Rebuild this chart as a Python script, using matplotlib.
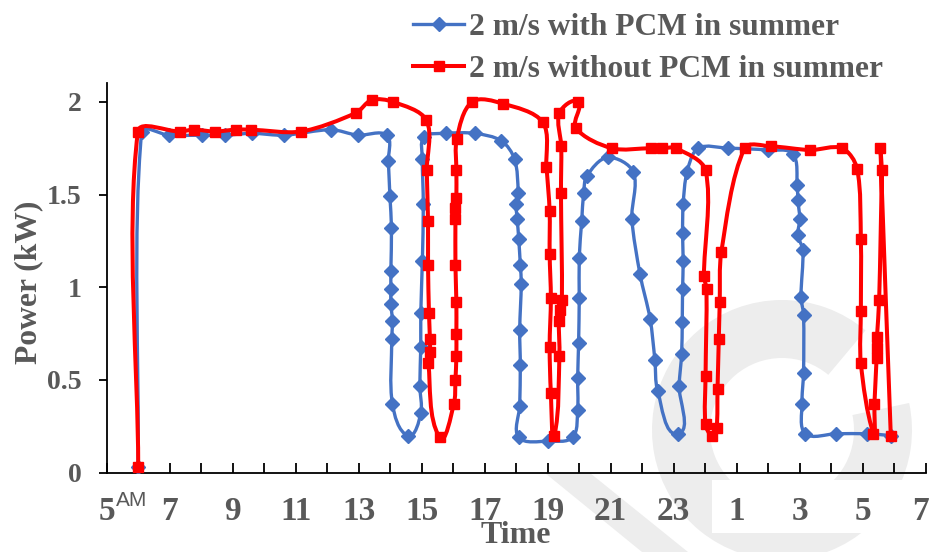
import numpy as np
import matplotlib
matplotlib.use("Agg")
import matplotlib.pyplot as plt
import matplotlib.transforms as mtransforms
from matplotlib.path import Path
from matplotlib.patches import PathPatch, Wedge, Polygon, Rectangle
from matplotlib.lines import Line2D

# data (hour of day, 5 = 5 AM, 29 = 5 AM next day)
with_x = [6.0, 6.11, 6.97, 8.04, 8.74, 9.61, 10.64, 12.12, 12.97, 13.89, 13.94, 13.99,
          14.04, 14.02, 14.02, 14.02, 14.07, 14.05, 14.07, 14.57, 14.97, 14.94, 14.97,
          14.97, 15.02, 15.05, 15.02, 15.07, 15.78, 16.69, 17.53, 17.95, 18.06, 17.99,
          18.03, 18.08, 18.13, 18.16, 18.11, 18.13, 18.11, 18.08, 19.01, 19.79, 19.95,
          19.95, 19.98, 20.0, 20.0, 20.08, 20.14, 20.24, 20.9, 21.72, 21.67, 21.93,
          22.25, 22.4, 22.49, 23.14, 23.17, 23.25, 23.27, 23.28, 23.3, 23.28, 23.3,
          23.42, 23.78, 24.73, 25.99, 26.78, 26.92, 26.94, 27.0, 26.94, 27.1, 27.04,
          27.12, 27.12, 27.07, 27.18, 28.15, 29.15, 29.89]
with_y = [0.03, 1.84, 1.82, 1.82, 1.82, 1.83, 1.82, 1.85, 1.82, 1.82, 1.68, 1.49,
          1.32, 1.09, 0.99, 0.91, 0.82, 0.72, 0.37, 0.20, 0.32, 0.47, 0.68,
          0.86, 1.14, 1.45, 1.69, 1.81, 1.83, 1.83, 1.79, 1.69, 1.51, 1.45,
          1.37, 1.26, 1.12, 1.02, 0.77, 0.58, 0.36, 0.19, 0.17, 0.19, 0.34,
          0.51, 0.70, 0.94, 1.16, 1.36, 1.51, 1.60, 1.70, 1.62, 1.37, 1.07,
          0.83, 0.61, 0.44, 0.21, 0.47, 0.64, 0.81, 0.99, 1.14, 1.29, 1.45,
          1.62, 1.75, 1.75, 1.74, 1.72, 1.55, 1.47, 1.37, 1.28, 1.20, 0.95,
          0.85, 0.54, 0.37, 0.21, 0.21, 0.21, 0.20]

without_x = [6.0, 5.99, 7.32, 7.77, 8.43, 9.09, 9.57, 11.17, 12.91, 13.41, 14.09, 15.15,
             15.16, 15.2, 15.2, 15.23, 15.26, 15.26, 15.21, 15.57, 16.02, 16.07, 16.1,
             16.1, 16.1, 16.07, 16.07, 16.07, 16.1, 16.1, 16.11, 16.6, 17.58, 18.84,
             18.96, 19.06, 19.06, 19.1, 19.06, 19.1, 19.21, 19.37, 19.35, 19.38, 19.45,
             19.42, 19.43, 19.37, 19.96, 19.89, 21.03, 22.28, 22.64, 23.07, 24.01,
             23.96, 24.04, 24.01, 24.01, 24.23, 24.36, 24.39, 24.43, 24.46, 24.51,
             25.25, 26.08, 27.34, 28.34, 28.82, 28.94, 28.94, 28.94, 29.34, 29.37,
             29.44, 29.44, 29.45, 29.52, 29.6, 29.56, 29.89]
without_y = [0.03, 1.84, 1.84, 1.85, 1.84, 1.85, 1.85, 1.84, 1.94, 2.01, 2.00, 1.90,
             1.63, 1.36, 1.12, 0.86, 0.72, 0.65, 0.59, 0.19, 0.37, 0.50, 0.63,
             0.75, 0.92, 1.12, 1.37, 1.43, 1.48, 1.63, 1.80, 2.00, 1.99, 1.89,
             1.65, 1.41, 1.18, 0.94, 0.68, 0.43, 0.20, 0.63, 0.82, 0.88, 0.93,
             1.51, 1.76, 1.94, 2.00, 1.86, 1.75, 1.75, 1.75, 1.75, 1.63,
             1.06, 0.99, 0.52, 0.26, 0.20, 0.24, 0.45, 0.72, 0.92, 1.19,
             1.75, 1.76, 1.74, 1.75, 1.64, 1.26, 0.87, 0.59, 0.21, 0.37,
             0.62, 0.67, 0.73, 0.93, 1.63, 1.75, 0.20]

tick_pos = list(range(5, 32, 2))
tick_labels = ['5', '7', '9', '11', '13', '15', '17', '19', '21', '23', '1', '3', '5', '7']
legend_labels = ['2 m/s with PCM in summer', '2 m/s without PCM in summer']

blue = '#4472C4'
red = '#FF0000'
gray = '#595959'
serif = 'Liberation Serif'


def smooth_path(ax, xs, ys, f=0.3):
    # excel-like smoothed line, control points worked out in screen space
    p = ax.transData.transform(np.column_stack([xs, ys]))
    n = len(p)
    verts = [p[0]]
    codes = [Path.MOVETO]

    def unit(v):
        d = np.hypot(*v)
        return v / d if d > 0 else v * 0

    for i in range(n - 1):
        p0 = p[i - 1] if i > 0 else p[i]
        p3 = p[i + 2] if i + 2 < n else p[i + 1]
        d = np.hypot(*(p[i + 1] - p[i]))
        c1 = p[i] + unit(p[i + 1] - p0) * d * f
        c2 = p[i + 1] - unit(p3 - p[i]) * d * f
        verts += [c1, c2, p[i + 1]]
        codes += [Path.CURVE4] * 3
    verts = ax.transData.inverted().transform(np.array(verts))
    return Path(verts, codes)


fig = plt.figure(figsize=(9.32, 5.52), dpi=100)

# faint watermark behind the chart (pixel coords, y up)
bg = fig.add_axes([0, 0, 1, 1], zorder=0)
bg.set_xlim(0, 932)
bg.set_ylim(0, 552)
bg.axis('off')
wm = '#ededed'
bg.add_patch(Wedge((782, 122), 130, 50, 372, width=58, color=wm, lw=0))
bg.add_patch(Polygon([(545, 79), (590, 79), (688, 0), (642, 0)], color=wm, lw=0))
bg.add_patch(Rectangle((712, 19), 220, 53, color='white', lw=0))

ax = fig.add_axes([0.1145, 0.1437, 0.8788, 0.7054], zorder=1)
ax.patch.set_alpha(0)
ax.set_xlim(5, 31)
ax.set_ylim(0, 2.1)

ax.add_patch(PathPatch(smooth_path(ax, with_x, with_y), fill=False, edgecolor=blue,
                       lw=2.4, capstyle='round', joinstyle='round', zorder=2))
ax.plot(with_x, with_y, ls='none', marker='D', ms=7.6, color=blue, zorder=3)
ax.add_patch(PathPatch(smooth_path(ax, without_x, without_y), fill=False, edgecolor=red,
                       lw=2.9, capstyle='round', joinstyle='round', zorder=4))
ax.plot(without_x, without_y, ls='none', marker='s', ms=7.4, color=red, zorder=5)

ax.set_xticks(tick_pos)
ax.set_xticklabels(tick_labels)
ax.set_xticks(range(5, 32), minor=True)
ax.set_yticks([0, 0.5, 1, 1.5, 2])
ax.set_yticklabels(['0', '0.5', '1', '1.5', '2'])

for s in ['top', 'right']:
    ax.spines[s].set_visible(False)
for s in ['left', 'bottom']:
    ax.spines[s].set_linewidth(1.3)

ax.tick_params(axis='x', which='both', direction='in', length=7, width=1.3, pad=17)
ax.tick_params(axis='y', direction='out', length=6, width=1.3, pad=12)
for lab in ax.get_xticklabels():
    lab.set_fontfamily(serif)
    lab.set_fontweight('bold')
    lab.set_fontsize(24)
    lab.set_color(gray)
for lab in ax.get_yticklabels():
    lab.set_fontfamily(serif)
    lab.set_fontweight('bold')
    lab.set_fontsize(20)
    lab.set_color(gray)
# last label sits a little inside the edge
last = ax.get_xticklabels()[-1]
last.set_transform(last.get_transform() +
                   mtransforms.ScaledTranslation(-5 / 100, 0, fig.dpi_scale_trans))

ax.text(5.28, -0.1, 'AM', transform=ax.transData, fontsize=15, color=gray,
        family='Liberation Sans', ha='left', va='top')

ax.set_xlabel('Time', fontsize=23, fontweight='bold', family=serif, color=gray)
ax.xaxis.set_label_coords(0.5, -0.125)
ax.set_ylabel('Power (kW)', fontsize=22.7, fontweight='bold', family=serif, color=gray)
ax.yaxis.set_label_coords(-0.078, 0.49)

handles = [Line2D([], [], color=blue, lw=2.4, marker='D', ms=7.6),
           Line2D([], [], color=red, lw=2.9, marker='s', ms=7.4)]
leg = fig.legend(handles, legend_labels,
                 loc='upper left', bbox_to_anchor=(0.413, 1.028), frameon=False,
                 prop={'family': serif, 'weight': 'bold', 'size': 22.7},
                 handlelength=1.62, handletextpad=0.16, labelspacing=0.41)
for t in leg.get_texts():
    t.set_color(gray)

fig.savefig('out.png', dpi=100)
